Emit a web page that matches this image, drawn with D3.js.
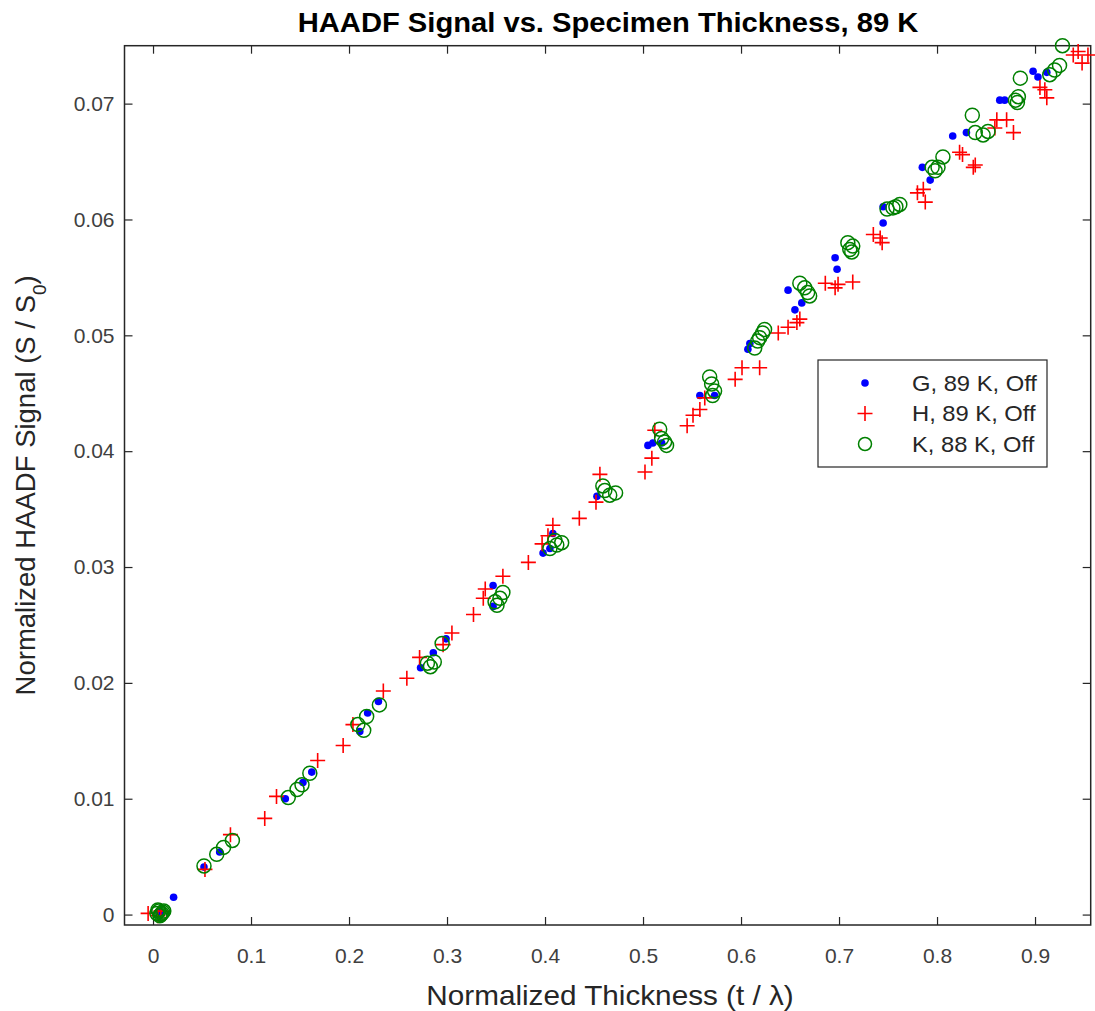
<!DOCTYPE html>
<html>
<head>
<meta charset="utf-8">
<script src="https://cdn.jsdelivr.net/npm/d3@7"></script>
<style>
  body { margin: 0; background: #fff; }
  svg { font-family: "Liberation Sans", Arial, sans-serif; }
</style>
</head>
<body>
<svg id="chart" width="1095" height="1011"></svg>
<script>
// thickness (t / lambda), signal (S / S0)
const gPoints = [
  [0.007,0.0002],[0.021,0.0015],[0.052,0.0041],[0.068,0.0054],
  [0.135,0.0100],[0.153,0.0114],[0.162,0.0123],
  [0.211,0.0158],[0.219,0.0174],[0.230,0.0184],
  [0.273,0.0213],[0.286,0.0226],[0.299,0.0238],
  [0.347,0.0284],[0.347,0.0266],
  [0.398,0.0312],[0.408,0.0329],[0.405,0.0316],
  [0.453,0.0361],
  [0.505,0.0405],[0.510,0.0407],[0.519,0.0407],
  [0.558,0.0448],[0.573,0.0448],
  [0.607,0.0488],[0.609,0.0493],
  [0.648,0.0539],[0.655,0.0522],[0.662,0.0528],
  [0.696,0.0567],[0.698,0.0557],
  [0.745,0.0597],[0.745,0.0611],
  [0.785,0.0645],[0.793,0.0634],
  [0.816,0.0672],[0.830,0.0675],
  [0.864,0.0703],[0.869,0.0703],
  [0.898,0.0728],[0.903,0.0723],[0.912,0.0727]
];

const hPoints = [
  [-0.005,0.0001],[0.005,-0.0001],[0.008,0.0003],
  [0.053,0.0039],[0.079,0.0069],
  [0.114,0.0083],[0.126,0.0102],
  [0.168,0.0133],[0.194,0.0146],
  [0.204,0.0164],[0.235,0.0193],
  [0.259,0.0204],[0.272,0.0222],[0.296,0.0233],[0.305,0.0243],
  [0.327,0.0259],[0.337,0.0273],[0.339,0.0281],[0.357,0.0292],
  [0.383,0.0304],[0.397,0.0320],[0.403,0.0327],[0.408,0.0336],
  [0.435,0.0342],[0.452,0.0356],[0.456,0.0380],
  [0.502,0.0382],[0.509,0.0394],[0.512,0.0418],
  [0.545,0.0422],[0.551,0.0431],[0.558,0.0436],[0.563,0.0446],
  [0.594,0.0462],[0.601,0.0472],[0.619,0.0472],
  [0.638,0.0502],[0.648,0.0507],[0.657,0.0511],[0.660,0.0514],
  [0.686,0.0545],[0.696,0.0541],[0.699,0.0544],[0.714,0.0546],
  [0.735,0.0587],[0.742,0.0584],[0.744,0.0580],
  [0.780,0.0623],[0.786,0.0626],[0.788,0.0615],
  [0.823,0.0658],[0.826,0.0656],[0.837,0.0645],[0.839,0.0647],
  [0.859,0.0679],[0.861,0.0686],[0.871,0.0686],[0.878,0.0675],
  [0.905,0.0714],[0.910,0.0712],[0.912,0.0705],
  [0.939,0.0742],[0.944,0.0745],[0.948,0.0735],[0.954,0.0742]
];

const kPoints = [
  [0.004,0.0001],[0.006,0.0003],[0.008,0.0000],[0.010,0.0002],
  [0.005,0.0004],[0.009,0.0001],[0.007,-0.0001],[0.011,0.0003],
  [0.052,0.0042],[0.065,0.0052],[0.072,0.0058],[0.081,0.0064],
  [0.138,0.0101],[0.147,0.0108],[0.152,0.0112],[0.160,0.0122],
  [0.209,0.0164],[0.215,0.0159],[0.218,0.0171],[0.231,0.0181],
  [0.283,0.0214],[0.287,0.0218],[0.280,0.0217],[0.295,0.0234],
  [0.351,0.0267],[0.354,0.0273],[0.357,0.0278],[0.349,0.0270],
  [0.405,0.0316],[0.410,0.0323],[0.412,0.0319],[0.417,0.0321],
  [0.459,0.0370],[0.461,0.0366],[0.466,0.0362],[0.472,0.0364],
  [0.517,0.0419],[0.519,0.0411],[0.522,0.0408],[0.524,0.0405],
  [0.568,0.0464],[0.570,0.0458],[0.573,0.0452],[0.571,0.0448],
  [0.614,0.0489],[0.617,0.0495],[0.619,0.0498],[0.622,0.0502],[0.624,0.0505],
  [0.660,0.0545],[0.665,0.0541],[0.668,0.0537],[0.670,0.0534],
  [0.709,0.0580],[0.711,0.0574],[0.714,0.0577],[0.713,0.0572],
  [0.749,0.0609],[0.755,0.0610],[0.762,0.0613],[0.758,0.0611],
  [0.795,0.0645],[0.801,0.0645],[0.806,0.0654],[0.798,0.0642],
  [0.836,0.0690],[0.839,0.0675],[0.847,0.0673],[0.852,0.0676],
  [0.880,0.0703],[0.883,0.0706],[0.885,0.0722],[0.882,0.0701],
  [0.915,0.0725],[0.920,0.0729],[0.925,0.0733],[0.928,0.0750]
];

const xTicks = [0, 0.1, 0.2, 0.3, 0.4, 0.5, 0.6, 0.7, 0.8, 0.9];
const yTicks = [0, 0.01, 0.02, 0.03, 0.04, 0.05, 0.06, 0.07];
const legendLabels = ["G, 89 K, Off", "H, 89 K, Off", "K, 88 K, Off"];

const svg = d3.select("#chart");
const axisColor = "#262626";
const box = { left: 124.5, right: 1090.7, top: 45.7, bottom: 925 };

const x = d3.scaleLinear().domain([-0.0291, 0.9568]).range([box.left, box.right]);
const y = d3.scaleLinear().domain([-0.0009, 0.0750]).range([box.bottom, box.top]);

const fmtX = d => d === 0 ? "0" : d3.format(".1f")(d);
const fmtY = d => d === 0 ? "0" : d3.format(".2f")(d);

// axes (ticks point inward, mirrored on top/right)
function styleAxis(g) {
  g.select(".domain").remove();
  g.selectAll(".tick line").attr("stroke", axisColor).attr("stroke-width", 1.2);
  g.selectAll(".tick text").attr("fill", "#404040").style("font-size", "21px");
}

svg.append("g")
  .attr("transform", `translate(0,${box.bottom})`)
  .call(d3.axisBottom(x).tickValues(xTicks).tickFormat(fmtX).tickSizeInner(-8).tickPadding(23))
  .call(styleAxis);
svg.append("g")
  .attr("transform", `translate(0,${box.top})`)
  .call(d3.axisTop(x).tickValues(xTicks).tickFormat("").tickSizeInner(-8))
  .call(styleAxis);
svg.append("g")
  .attr("transform", `translate(${box.left},0)`)
  .call(d3.axisLeft(y).tickValues(yTicks).tickFormat(fmtY).tickSizeInner(-8).tickPadding(10))
  .call(styleAxis);
svg.append("g")
  .attr("transform", `translate(${box.right},0)`)
  .call(d3.axisRight(y).tickValues(yTicks).tickFormat("").tickSizeInner(-8))
  .call(styleAxis);

svg.append("rect")
  .attr("x", box.left).attr("y", box.top)
  .attr("width", box.right - box.left).attr("height", box.bottom - box.top)
  .attr("fill", "none").attr("stroke", axisColor).attr("stroke-width", 1.5);

// markers
const plot = svg.append("g");

plot.append("g").selectAll("circle")
  .data(gPoints)
  .join("circle")
  .attr("cx", d => x(d[0]))
  .attr("cy", d => y(d[1]))
  .attr("r", 3.8)
  .attr("fill", "#0000ff");

function plusPath(cx, cy, s) {
  return `M${cx - s},${cy}H${cx + s}M${cx},${cy - s}V${cy + s}`;
}

plot.append("g").selectAll("path")
  .data(hPoints)
  .join("path")
  .attr("d", d => plusPath(x(d[0]), y(d[1]), 7.5))
  .attr("stroke", "#ff0000")
  .attr("stroke-width", 1.6)
  .attr("fill", "none");

plot.append("g").selectAll("circle")
  .data(kPoints)
  .join("circle")
  .attr("cx", d => x(d[0]))
  .attr("cy", d => y(d[1]))
  .attr("r", 7)
  .attr("fill", "none")
  .attr("stroke", "#008000")
  .attr("stroke-width", 1.5);

// legend
const legend = svg.append("g").attr("transform", "translate(818,360)");
legend.append("rect")
  .attr("width", 229).attr("height", 107)
  .attr("fill", "#fff").attr("stroke", axisColor).attr("stroke-width", 1.2);

legendLabels.forEach((label, i) => {
  const ly = 23 + i * 30.5;
  if (i === 0) {
    legend.append("circle").attr("cx", 47).attr("cy", ly).attr("r", 3.8).attr("fill", "#0000ff");
  } else if (i === 1) {
    legend.append("path").attr("d", plusPath(47, ly, 7.5))
      .attr("stroke", "#ff0000").attr("stroke-width", 1.6);
  } else {
    legend.append("circle").attr("cx", 47).attr("cy", ly).attr("r", 6.5)
      .attr("fill", "none").attr("stroke", "#008000").attr("stroke-width", 1.5);
  }
  legend.append("text")
    .attr("transform", `translate(94,${ly + 7.5}) scale(1.08,1)`)
    .attr("fill", "#262626")
    .style("font-size", "22px")
    .text(label);
});

// title and axis labels
svg.append("text")
  .attr("transform", `translate(608,32) scale(1.08,1)`)
  .attr("text-anchor", "middle")
  .style("font-size", "27px").style("font-weight", "bold")
  .attr("fill", "#000")
  .text("HAADF Signal vs. Specimen Thickness, 89 K");

svg.append("text")
  .attr("transform", `translate(610,1005) scale(1.1,1)`)
  .attr("text-anchor", "middle")
  .style("font-size", "27px")
  .attr("fill", "#262626")
  .text("Normalized Thickness (t / \u03bb)");

const yl = svg.append("text")
  .attr("transform", `translate(35,${(box.top + box.bottom) / 2}) rotate(-90)`)
  .attr("text-anchor", "middle")
  .style("font-size", "27.5px")
  .attr("fill", "#262626");
yl.append("tspan").text("Normalized HAADF Signal (S / S");
yl.append("tspan").attr("baseline-shift", "sub").style("font-size", "19px").text("0");
yl.append("tspan").text(")");
</script>
</body>
</html>
